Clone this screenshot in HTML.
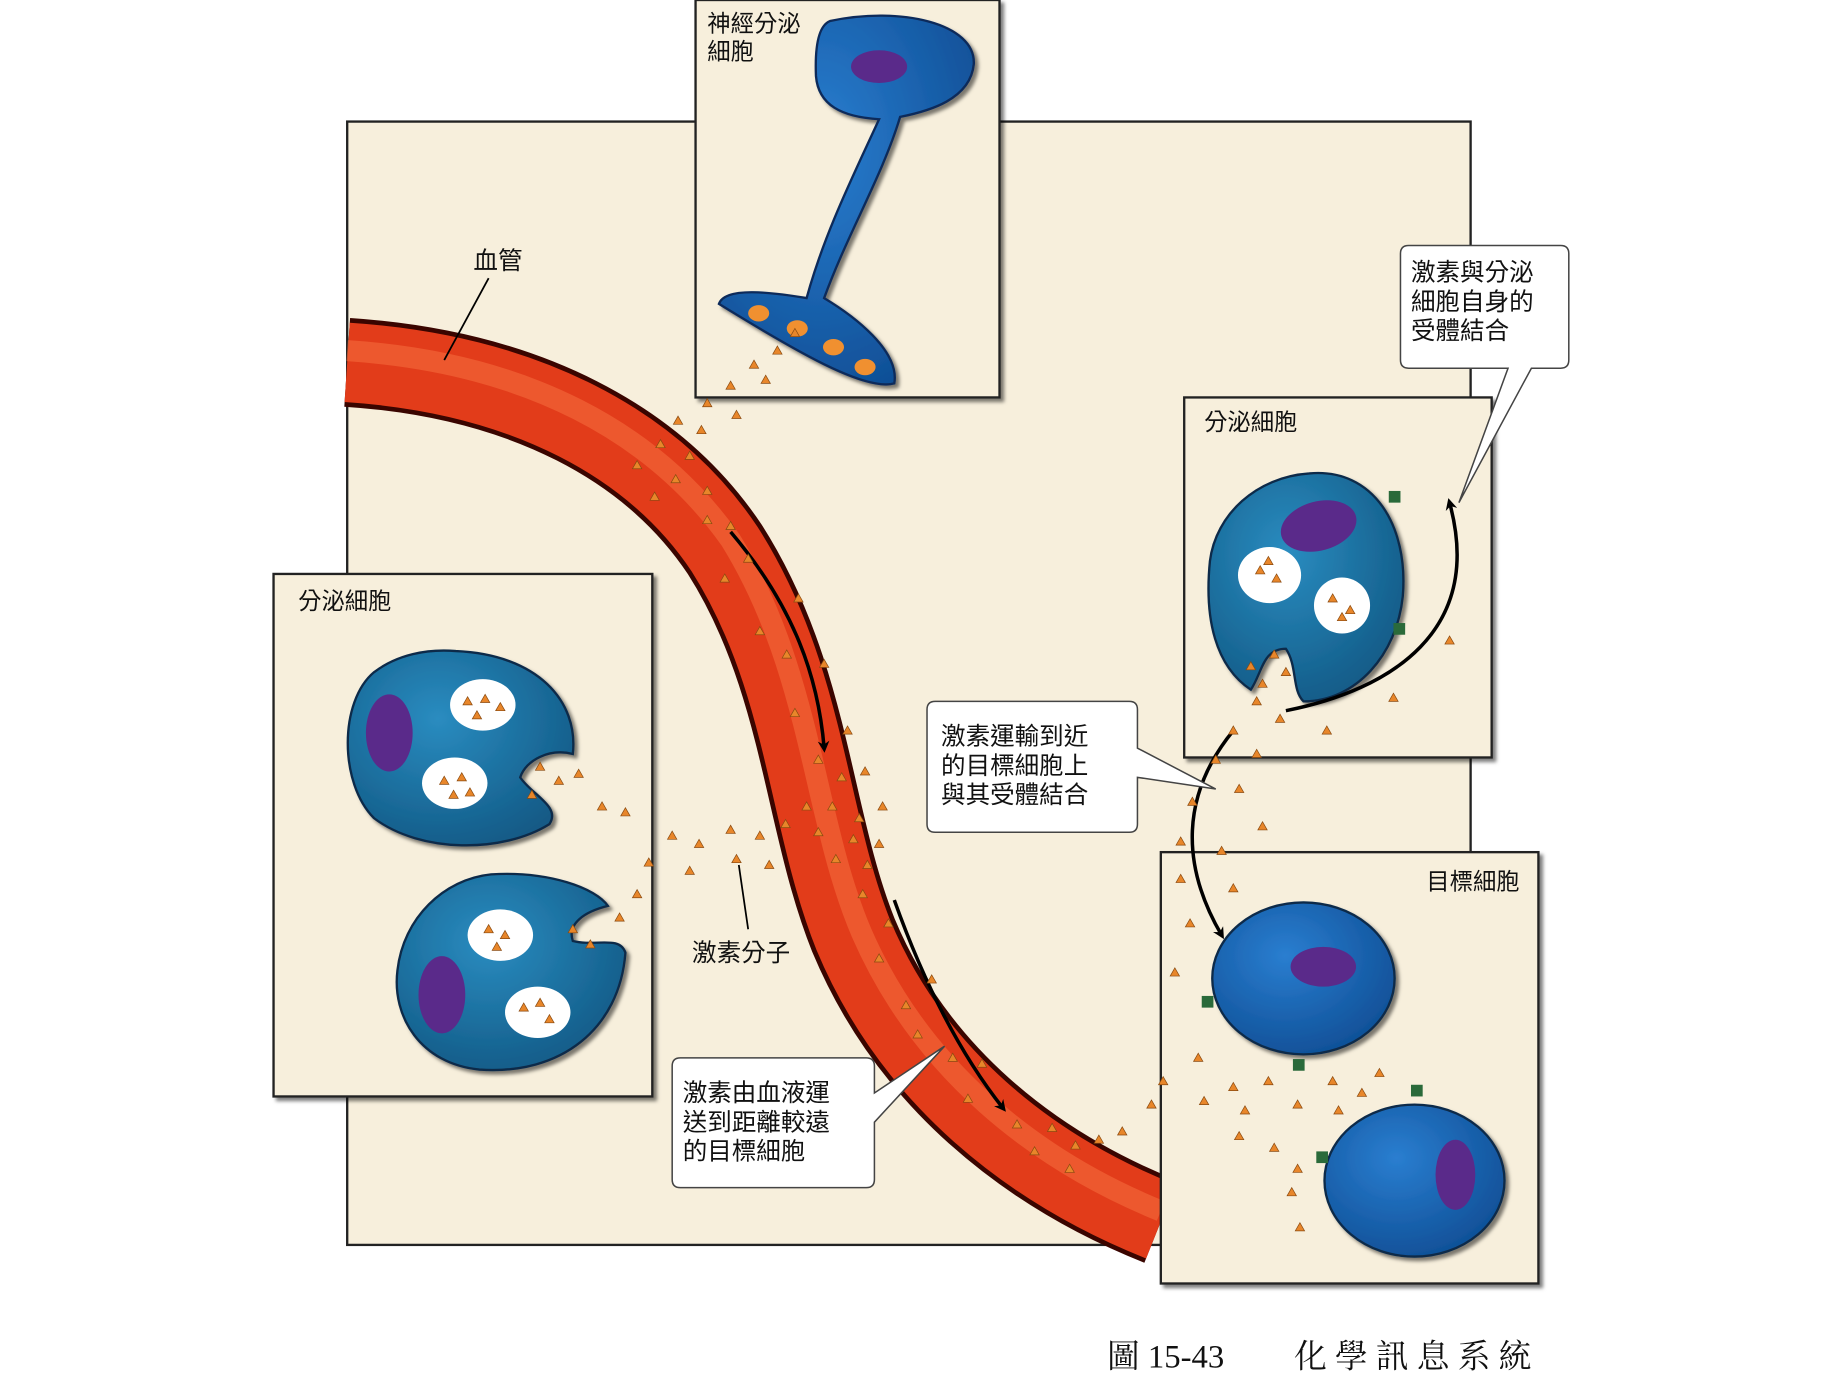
<!DOCTYPE html>
<html><head><meta charset="utf-8"><style>
html,body{margin:0;padding:0;background:#fff}
svg{display:block}
text{font-family:"Liberation Sans","Noto Sans CJK TC",sans-serif;fill:#111}
</style></head><body>
<svg width="1833" height="1377" viewBox="0 0 1568 1178" preserveAspectRatio="none" xmlns="http://www.w3.org/2000/svg">
<defs>
<radialGradient id="cell" cx="0.4" cy="0.35" r="0.7"><stop offset="0" stop-color="#2a8cc0"/><stop offset="1" stop-color="#125a86"/></radialGradient>
<radialGradient id="cell2" cx="0.4" cy="0.35" r="0.7"><stop offset="0" stop-color="#2a7ed0"/><stop offset="1" stop-color="#0f4f96"/></radialGradient>
<filter id="sh"><feDropShadow dx="3" dy="3" stdDeviation="1.5" flood-opacity="0.5"/></filter>
<marker id="ar" markerWidth="10" markerHeight="10" refX="6" refY="5" orient="auto" markerUnits="userSpaceOnUse"><path d="M0,0 L10,5 L0,10 L3,5z" fill="#000"/></marker>
<g id="h"><path d="M-4,3 L4,3 L0,-4z" fill="#e8862a" stroke="#8a4a10" stroke-width="0.6"/></g>
</defs>
<rect x="297" y="104" width="961" height="961" fill="#f7efdc" stroke="#222" stroke-width="2"/>
<path d="M297,310 C450,320 560,380 620,470 C690,580 690,700 730,800 C780,920 880,1000 993,1045" fill="none" stroke="#3a0500" stroke-width="76"/>
<path d="M297,310 C450,320 560,380 620,470 C690,580 690,700 730,800 C780,920 880,1000 993,1045" fill="none" stroke="#e23c1a" stroke-width="68"/>
<path d="M297,300 C450,310 560,370 625,462 C695,575 695,700 737,798 C788,915 885,992 993,1036" fill="none" stroke="#f56a3c" stroke-width="18" opacity="0.6"/>
<path d="M625,455 C680,520 700,580 705,640" fill="none" stroke="#000" stroke-width="3" marker-end="url(#ar)"/>
<path d="M765,770 C790,840 820,900 858,948" fill="none" stroke="#000" stroke-width="3" marker-end="url(#ar)"/>
<rect x="595" y="0" width="260" height="340" fill="#f7efdc" stroke="#222" stroke-width="2" filter="url(#sh)"/>
<text x="605" y="27" font-size="20">神經分泌</text><text x="605" y="51" font-size="20">細胞</text>
<path d="M710,18 C770,5 835,20 833,55 C830,85 795,95 770,100 C755,150 725,200 705,255 C730,270 770,300 765,328 C740,335 680,300 615,260 C620,245 660,250 690,255 C705,200 730,150 752,102 C720,100 700,90 698,65 C697,40 700,22 710,18z" fill="url(#cell2)" stroke="#0a2a5a" stroke-width="2" filter="url(#sh)"/>
<ellipse cx="752" cy="57" rx="24" ry="14" fill="#5a2a8a"/>
<g fill="#f09030"><ellipse cx="649" cy="268" rx="9" ry="7"/><ellipse cx="682" cy="281" rx="9" ry="7"/><ellipse cx="713" cy="297" rx="9" ry="7"/><ellipse cx="740" cy="314" rx="9" ry="7"/></g>
<rect x="234" y="491" width="324" height="447" fill="#f7efdc" stroke="#222" stroke-width="2" filter="url(#sh)"/>
<text x="255" y="521" font-size="20">分泌細胞</text>
<path d="M390,557 C460,560 495,600 490,645 C470,640 450,650 445,665 C455,680 480,690 470,705 C430,730 360,730 320,700 C290,670 290,600 320,575 C340,560 365,555 390,557z" fill="url(#cell)" stroke="#0a2a4a" stroke-width="2" filter="url(#sh)"/>
<ellipse cx="333" cy="627" rx="20" ry="33" fill="#5a2a8a"/>
<ellipse cx="413" cy="603" rx="28" ry="22" fill="#fff"/><ellipse cx="389" cy="670" rx="28" ry="22" fill="#fff"/>
<path d="M420,748 C470,745 510,760 520,775 C500,780 485,790 490,805 C510,810 530,800 535,815 C530,880 480,920 410,915 C360,910 335,870 340,830 C345,785 380,752 420,748z" fill="url(#cell)" stroke="#0a2a4a" stroke-width="2" filter="url(#sh)"/>
<ellipse cx="378" cy="851" rx="20" ry="33" fill="#5a2a8a"/>
<ellipse cx="428" cy="800" rx="28" ry="22" fill="#fff"/><ellipse cx="460" cy="866" rx="28" ry="22" fill="#fff"/>
<rect x="1013" y="340" width="263" height="308" fill="#f7efdc" stroke="#222" stroke-width="2" filter="url(#sh)"/>
<text x="1030" y="368" font-size="20">分泌細胞</text>
<path d="M1120,405 C1175,400 1205,450 1200,510 C1195,560 1160,600 1115,600 C1105,590 1110,570 1100,555 C1080,555 1080,575 1070,590 C1040,570 1030,530 1035,480 C1040,440 1075,408 1120,405z" fill="url(#cell)" stroke="#0a2a4a" stroke-width="2" filter="url(#sh)"/>
<ellipse cx="1128" cy="450" rx="33" ry="21" fill="#5a2a8a" transform="rotate(-15 1128 450)"/>
<ellipse cx="1086" cy="492" rx="27" ry="24" fill="#fff"/><ellipse cx="1148" cy="518" rx="24" ry="24" fill="#fff"/>
<rect x="1188" y="420" width="10" height="10" fill="#2a6a3a"/><rect x="1192" y="533" width="10" height="10" fill="#2a6a3a"/>
<path d="M1100,608 C1190,590 1270,540 1240,430" fill="none" stroke="#000" stroke-width="3" marker-end="url(#ar)"/>
<rect x="993" y="729" width="323" height="369" fill="#f7efdc" stroke="#222" stroke-width="2" filter="url(#sh)"/>
<text x="1300" y="761" font-size="20" text-anchor="end">目標細胞</text>
<ellipse cx="1115" cy="837" rx="78" ry="65" fill="url(#cell2)" stroke="#0a2a4a" stroke-width="2" filter="url(#sh)"/>
<ellipse cx="1132" cy="827" rx="28" ry="17" fill="#5a2a8a"/>
<ellipse cx="1210" cy="1010" rx="77" ry="65" fill="url(#cell2)" stroke="#0a2a4a" stroke-width="2" filter="url(#sh)"/>
<ellipse cx="1245" cy="1005" rx="17" ry="30" fill="#5a2a8a"/>
<g fill="#2a6a3a"><rect x="1028" y="852" width="10" height="10"/><rect x="1106" y="906" width="10" height="10"/><rect x="1207" y="928" width="10" height="10"/><rect x="1126" y="985" width="10" height="10"/></g>
<path d="M1055,625 C1010,680 1010,740 1045,800" fill="none" stroke="#000" stroke-width="3" marker-end="url(#ar)"/>
<g>
<use href="#h" x="680" y="285"/><use href="#h" x="665" y="300"/><use href="#h" x="645" y="312"/><use href="#h" x="625" y="330"/><use href="#h" x="655" y="325"/><use href="#h" x="605" y="345"/><use href="#h" x="630" y="355"/><use href="#h" x="580" y="360"/><use href="#h" x="600" y="368"/><use href="#h" x="565" y="380"/><use href="#h" x="590" y="390"/><use href="#h" x="545" y="398"/><use href="#h" x="578" y="410"/><use href="#h" x="605" y="420"/><use href="#h" x="560" y="425"/><use href="#h" x="625" y="450"/><use href="#h" x="605" y="445"/><use href="#h" x="640" y="478"/><use href="#h" x="620" y="495"/><use href="#h" x="683" y="512"/><use href="#h" x="650" y="540"/><use href="#h" x="673" y="560"/><use href="#h" x="705" y="568"/><use href="#h" x="680" y="610"/><use href="#h" x="725" y="625"/><use href="#h" x="700" y="650"/><use href="#h" x="720" y="665"/><use href="#h" x="740" y="660"/><use href="#h" x="690" y="690"/><use href="#h" x="712" y="690"/><use href="#h" x="735" y="700"/><use href="#h" x="755" y="690"/><use href="#h" x="700" y="712"/><use href="#h" x="730" y="718"/><use href="#h" x="752" y="722"/><use href="#h" x="715" y="735"/><use href="#h" x="742" y="740"/><use href="#h" x="738" y="765"/><use href="#h" x="760" y="790"/><use href="#h" x="752" y="820"/><use href="#h" x="797" y="838"/><use href="#h" x="775" y="860"/><use href="#h" x="785" y="885"/><use href="#h" x="815" y="905"/><use href="#h" x="840" y="910"/><use href="#h" x="828" y="940"/><use href="#h" x="870" y="962"/><use href="#h" x="900" y="965"/><use href="#h" x="885" y="985"/><use href="#h" x="920" y="980"/><use href="#h" x="940" y="975"/><use href="#h" x="960" y="968"/><use href="#h" x="985" y="945"/><use href="#h" x="995" y="925"/><use href="#h" x="915" y="1000"/>
<use href="#h" x="462" y="656"/><use href="#h" x="478" y="668"/><use href="#h" x="495" y="662"/><use href="#h" x="455" y="680"/><use href="#h" x="515" y="690"/><use href="#h" x="535" y="695"/><use href="#h" x="575" y="715"/><use href="#h" x="598" y="722"/><use href="#h" x="625" y="710"/><use href="#h" x="650" y="715"/><use href="#h" x="672" y="705"/><use href="#h" x="555" y="738"/><use href="#h" x="590" y="745"/><use href="#h" x="630" y="735"/><use href="#h" x="658" y="740"/><use href="#h" x="545" y="765"/><use href="#h" x="530" y="785"/><use href="#h" x="490" y="795"/><use href="#h" x="505" y="808"/>
<use href="#h" x="1070" y="570"/><use href="#h" x="1090" y="560"/><use href="#h" x="1080" y="585"/><use href="#h" x="1100" y="575"/><use href="#h" x="1075" y="600"/><use href="#h" x="1095" y="615"/><use href="#h" x="1055" y="625"/><use href="#h" x="1075" y="645"/><use href="#h" x="1135" y="625"/><use href="#h" x="1192" y="597"/><use href="#h" x="1240" y="548"/><use href="#h" x="1040" y="650"/><use href="#h" x="1060" y="675"/><use href="#h" x="1020" y="686"/><use href="#h" x="1080" y="707"/><use href="#h" x="1010" y="720"/><use href="#h" x="1045" y="728"/><use href="#h" x="1010" y="752"/><use href="#h" x="1055" y="760"/><use href="#h" x="1018" y="790"/><use href="#h" x="1005" y="832"/><use href="#h" x="1025" y="905"/><use href="#h" x="1055" y="930"/><use href="#h" x="1085" y="925"/><use href="#h" x="1030" y="942"/><use href="#h" x="1065" y="950"/><use href="#h" x="1110" y="945"/><use href="#h" x="1140" y="925"/><use href="#h" x="1165" y="935"/><use href="#h" x="1180" y="918"/><use href="#h" x="1145" y="950"/><use href="#h" x="1060" y="972"/><use href="#h" x="1090" y="982"/><use href="#h" x="1110" y="1000"/><use href="#h" x="1105" y="1020"/><use href="#h" x="1112" y="1050"/>
<use href="#h" x="400" y="600"/><use href="#h" x="415" y="598"/><use href="#h" x="428" y="605"/><use href="#h" x="408" y="612"/><use href="#h" x="380" y="668"/><use href="#h" x="395" y="665"/><use href="#h" x="388" y="680"/><use href="#h" x="402" y="678"/><use href="#h" x="418" y="795"/><use href="#h" x="432" y="800"/><use href="#h" x="425" y="810"/><use href="#h" x="448" y="862"/><use href="#h" x="462" y="858"/><use href="#h" x="470" y="872"/><use href="#h" x="1078" y="488"/><use href="#h" x="1092" y="495"/><use href="#h" x="1085" y="480"/><use href="#h" x="1140" y="512"/><use href="#h" x="1155" y="522"/><use href="#h" x="1148" y="528"/>
</g>
<text x="405" y="230" font-size="21">血管</text>
<line x1="418" y1="238" x2="380" y2="308" stroke="#000" stroke-width="1.5"/>
<text x="592" y="822" font-size="21">激素分子</text>
<line x1="640" y1="795" x2="632" y2="740" stroke="#000" stroke-width="1.5"/>
<path d="M1205,210 H1335 Q1342,210 1342,217 V308 Q1342,315 1335,315 H1310 L1248,430 L1290,315 H1205 Q1198,315 1198,308 V217 Q1198,210 1205,210z" fill="#fff" stroke="#444" stroke-width="1.3"/>
<text x="1207" y="240" font-size="21">激素與分泌</text><text x="1207" y="265" font-size="21">細胞自身的</text><text x="1207" y="290" font-size="21">受體結合</text>
<path d="M800,600 H966 Q973,600 973,607 V640 L1040,675 L973,665 V705 Q973,712 966,712 H800 Q793,712 793,705 V607 Q793,600 800,600z" fill="#fff" stroke="#444" stroke-width="1.3"/>
<text x="805" y="637" font-size="21">激素運輸到近</text><text x="805" y="662" font-size="21">的目標細胞上</text><text x="805" y="687" font-size="21">與其受體結合</text>
<path d="M582,905 H741 Q748,905 748,912 V935 L808,895 L748,960 V1009 Q748,1016 741,1016 H582 Q575,1016 575,1009 V912 Q575,905 582,905z" fill="#fff" stroke="#444" stroke-width="1.3"/>
<text x="584" y="942" font-size="21">激素由血液運</text><text x="584" y="967" font-size="21">送到距離較遠</text><text x="584" y="992" font-size="21">的目標細胞</text>
<text x="947" y="1170" font-size="28" style="font-family:'Liberation Serif','Noto Serif CJK SC',serif">圖 15-43</text>
<text x="1107" y="1170" font-size="28" letter-spacing="7" style="font-family:'Liberation Serif','Noto Serif CJK SC',serif">化學訊息系統</text>
</svg>
</body></html>
